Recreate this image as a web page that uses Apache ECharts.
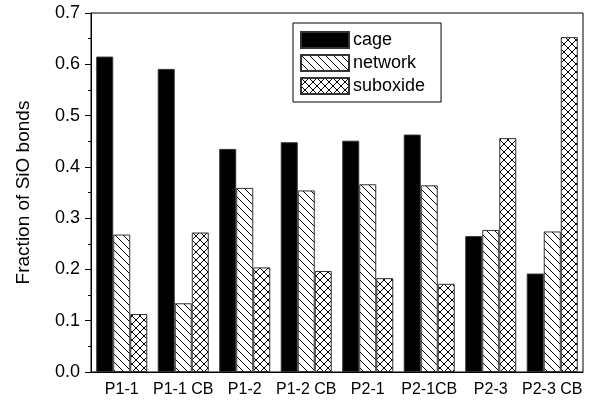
<!DOCTYPE html>
<html>
<head>
<meta charset="utf-8">
<script src="https://cdn.jsdelivr.net/npm/echarts@6/dist/echarts.min.js"></script>
<style>
html, body { margin: 0; padding: 0; background: #fff; }
#main { width: 589px; height: 406px; }
</style>
</head>
<body>
<div id="main"></div>
<script>
var samples = ['P1-1', 'P1-1 CB', 'P1-2', 'P1-2 CB', 'P2-1', 'P2-1CB', 'P2-3', 'P2-3 CB'];
var cage = [0.615, 0.591, 0.435, 0.448, 0.451, 0.463, 0.265, 0.192];
var network = [0.268, 0.134, 0.359, 0.354, 0.366, 0.364, 0.277, 0.274];
var suboxide = [0.113, 0.272, 0.204, 0.197, 0.183, 0.172, 0.456, 0.653];

var fontName = '"Liberation Sans", Arial, sans-serif';

// hatch tiles
function hatch(cross) {
    var s = 8;
    var c = document.createElement('canvas');
    c.width = s; c.height = s;
    var ctx = c.getContext('2d');
    ctx.fillStyle = '#fff';
    ctx.fillRect(0, 0, s, s);
    ctx.strokeStyle = '#000';
    ctx.lineWidth = 1;
    ctx.beginPath();
    ctx.moveTo(-1, -1); ctx.lineTo(s + 1, s + 1);
    ctx.moveTo(-1, s - 1); ctx.lineTo(1, s + 1);
    ctx.moveTo(s - 1, -1); ctx.lineTo(s + 1, 1);
    if (cross) {
        ctx.moveTo(-1, s + 1); ctx.lineTo(s + 1, -1);
        ctx.moveTo(-1, 1); ctx.lineTo(1, -1);
        ctx.moveTo(s - 1, s + 1); ctx.lineTo(s + 1, s - 1);
    }
    ctx.stroke();
    return { image: c, repeat: 'repeat' };
}

var chart = echarts.init(document.getElementById('main'));

var option = {
    backgroundColor: '#fff',
    animation: false,
    textStyle: { fontFamily: fontName },
    grid: {
        left: 91, right: 6, top: 13, bottom: 34,
        show: true, borderColor: '#000', borderWidth: 1
    },
    legend: {
        orient: 'vertical',
        icon: 'rect',
        left: 293, top: 23,
        padding: [8, 16, 7, 7],
        itemWidth: 48, itemHeight: 16, itemGap: 5,
        borderColor: '#000', borderWidth: 1,
        textStyle: { fontSize: 18, color: '#000', padding: [0, 0, 0, -1] },
        data: ['cage', 'network', 'suboxide']
    },
    xAxis: {
        type: 'category',
        data: samples,
        axisLine: { lineStyle: { color: '#000' } },
        axisTick: { alignWithLabel: true, length: 6, lineStyle: { color: '#000' } },
        axisLabel: { color: '#000', fontSize: 16, margin: 10, interval: 0 },
        splitLine: { show: false }
    },
    yAxis: {
        type: 'value',
        min: 0, max: 0.7, interval: 0.1,
        name: 'Fraction of SiO bonds',
        nameLocation: 'middle',
        nameGap: 58,
        nameTextStyle: { fontSize: 19, color: '#000' },
        axisLine: { show: true, lineStyle: { color: '#000' } },
        axisTick: { show: true, length: 6, lineStyle: { color: '#000' } },
        minorTick: { show: true, splitNumber: 2, length: 3, lineStyle: { color: '#000' } },
        axisLabel: {
            color: '#000', fontSize: 18, margin: 11,
            formatter: function (v) { return v.toFixed(1); }
        },
        splitLine: { show: false }
    },
    series: [{
        name: 'cage', type: 'bar', data: cage,
        barGap: '0%', barCategoryGap: '17%',
        itemStyle: { color: '#000', borderColor: '#333', borderWidth: 1 }
    }, {
        name: 'network', type: 'bar', data: network,
        itemStyle: { color: hatch(false), borderColor: '#333', borderWidth: 1 }
    }, {
        name: 'suboxide', type: 'bar', data: suboxide,
        itemStyle: { color: hatch(true), borderColor: '#333', borderWidth: 1 }
    }]
};

chart.setOption(option);
</script>
</body>
</html>
